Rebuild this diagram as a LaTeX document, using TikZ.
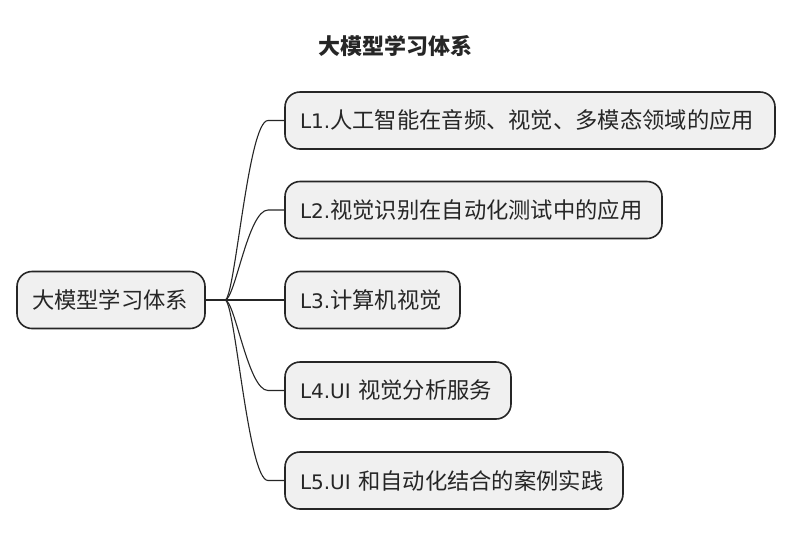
\documentclass[tikz,border=0pt]{standalone}
\usepackage{fontspec}
\setmainfont{Noto Sans CJK SC}
\newfontfamily\latfont{DejaVu Sans}
\begin{document}
\begin{tikzpicture}[x=1pt,y=-1pt,
  every node/.style={text=black!85},
  box/.style={draw=black!85, line width=1.6pt, fill=gray!12, rounded corners=15pt,
    minimum height=57pt, inner xsep=15pt, align=left,
    font=\fontsize{22.3}{26}\selectfont},
  link/.style={draw=black!85, line width=1.1pt}]
\useasboundingbox[fill=white] (0,0) rectangle (792,542);
\node[font=\fontsize{22}{26}\selectfont\bfseries] (title) at (395,46) {大模型学习体系};
\node[box, text width=158pt] (root) at (111,300) {大模型学习体系};
\node[box, text width=460pt] (l1) at (530,120.5) {{\latfont\fontsize{20}{26}\selectfont L1.}人工智能在音频、视觉、多模态领域的应用};
\node[box, text width=347pt] (l2) at (473.5,210) {{\latfont\fontsize{20}{26}\selectfont L2.}视觉识别在自动化测试中的应用};
\node[box, text width=145pt] (l3) at (372.5,300) {{\latfont\fontsize{20}{26}\selectfont L3.}计算机视觉};
\node[box, text width=196pt] (l4) at (398,390.5) {{\latfont\fontsize{20}{26}\selectfont L4.UI} 视觉分析服务};
\node[box, text width=308pt] (l5) at (454,480.5) {{\latfont\fontsize{20}{26}\selectfont L5.UI} 和自动化结合的案例实践};
\coordinate (hub) at (225,300);
\draw[link] (root.east) -- (hub);
\foreach \n in {l1,l2,l4,l5}{
  \draw[link] (hub) .. controls (235,300) and (248,0|-\n.west) .. (268,0|-\n.west) -- (\n.west);
}
\draw[link] (hub) -- (l3.west);
\end{tikzpicture}
\end{document}
